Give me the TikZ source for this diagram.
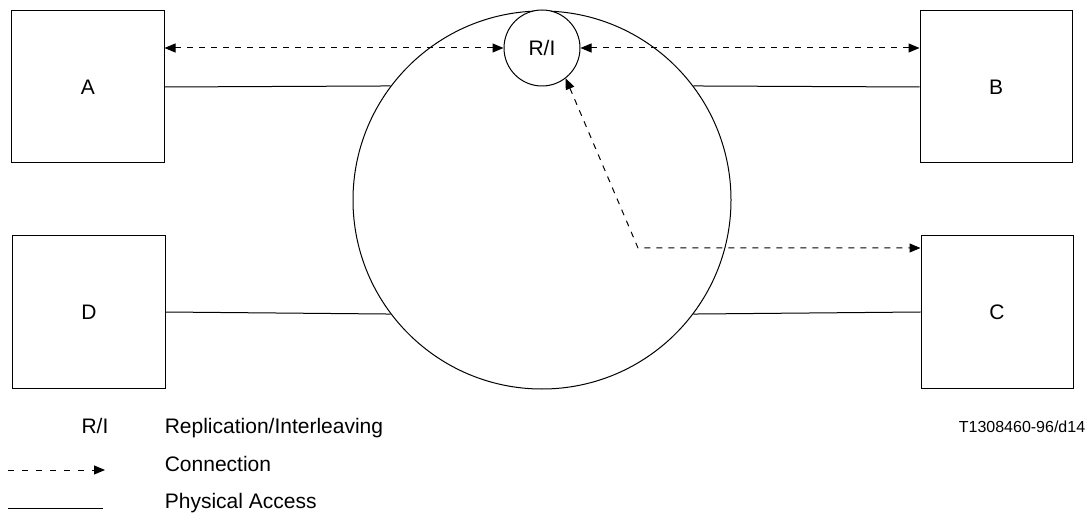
\documentclass[tikz,border=0pt]{standalone}
\usepackage{fontspec}
\setmainfont{Liberation Sans}
\usetikzlibrary{arrows.meta}
\begin{document}
\begin{tikzpicture}[x=1bp,y=-1bp,line width=1bp,
  font=\fontsize{21bp}{25bp}\selectfont,
  >={Triangle[length=11bp,width=9bp]},
  station/.style={draw,minimum size=152bp,inner sep=0pt},
  conn/.style={dash pattern=on 6bp off 6bp}]
  \useasboundingbox (0,0) rectangle (1092,514);
  \node[station] (a) at (88,87) {A};
  \node[station] (b) at (996,87) {B};
  \node[station] (d) at (89,312) {D};
  \node[station] (c) at (997,312) {C};
  \node[draw,circle,minimum size=378bp,inner sep=0pt] (net) at (542,200) {};
  \node[draw,circle,fill=white,minimum size=76bp,inner sep=0pt] (ri) at (542,48) {R/I};
  \coordinate (bend) at (638,248);
  \draw (a.east) -- (net.143);
  \draw (d.east) -- (net.217);
  \draw (net.37) -- (b.west);
  \draw (net.-37) -- (c.west);
  \draw[conn,<->] (a.east |- ri.west) -- (ri.west);
  \draw[conn,<->] (ri.east) -- (ri.east -| b.west);
  \draw[conn,<->] (ri.-52) -- (bend) -- (bend -| c.west);
  % legend
  \node[anchor=base] (keyri) at (95,433) {R/I};
  \node[anchor=base west] (keyritext) at (161,433) {Replication/Interleaving};
  \node[anchor=base west] (keyconn) at (161,471) {Connection};
  \node[anchor=base west] (keyphys) at (161,508) {Physical Access};
  \coordinate (conn0) at (8,470);
  \coordinate (conn1) at (105,470);
  \coordinate (phys0) at (8,508);
  \coordinate (phys1) at (103,508);
  \draw[dash pattern=on 6bp off 8bp,->] (conn0) -- (conn1);
  \draw (phys0) -- (phys1);
  \node[anchor=base east,font=\fontsize{16bp}{19bp}\selectfont] (tag) at (1089,432) {T1308460-96/d14};
\end{tikzpicture}
\end{document}
